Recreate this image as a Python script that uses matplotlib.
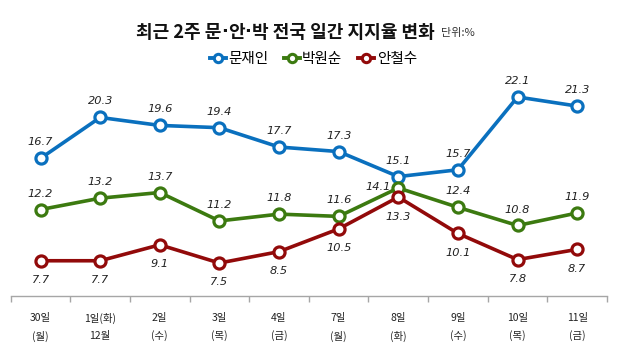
import matplotlib
matplotlib.use("Agg")
import matplotlib.pyplot as plt
from matplotlib.lines import Line2D

plt.rcParams['font.family'] = ['Noto Sans CJK KR', 'DejaVu Sans']

days = ["30일", "1일(화)", "2일", "3일", "4일", "7일", "8일", "9일", "10일", "11일"]
weekdays = ["(월)", "12월", "(수)", "(목)", "(금)", "(월)", "(화)", "(수)", "(목)", "(금)"]
series_names = ["문재인", "박원순", "안철수"]
moon = [16.7, 20.3, 19.6, 19.4, 17.7, 17.3, 15.1, 15.7, 22.1, 21.3]
park = [12.2, 13.2, 13.7, 11.2, 11.8, 11.6, 14.1, 12.4, 10.8, 11.9]
ahn = [7.7, 7.7, 9.1, 7.5, 8.5, 10.5, 13.3, 10.1, 7.8, 8.7]
title_parts = ["최근 2주 문", "·", "안", "·", "박 전국 일간 지지율 변화"]
unit_text = "단위:%"

colors = ["#0A70BE", "#3C7A10", "#920A0A"]

fig = plt.figure(figsize=(6.2, 3.53), dpi=100)
ax = fig.add_axes([10.7/620, (353-296)/353, (607-10.7)/620, (296-64)/353])

x = list(range(len(days)))
all_series = [moon, park, ahn]
for vals, c in zip(all_series, colors):
    ax.plot(x, vals, color=c, lw=2.6, marker='o', ms=8, mfc='white',
            mec=c, mew=2.3, zorder=3)

def lab(xi, v, dx, dy):
    ax.annotate(f"{v}", (xi, v), xytext=(dx, dy), textcoords='offset points',
                ha='center', va='center', fontsize=8.2, style='italic',
                family='DejaVu Sans', color='#222222', zorder=4)

for i, v in enumerate(moon):
    lab(i, v, 0, 11.5)
for i, v in enumerate(park):
    if i == 6:
        lab(i, v, -14.5, 0.5)
    else:
        lab(i, v, 0, 11.5)
for i, v in enumerate(ahn):
    lab(i, v, 0, -14)

ax.set_xlim(-0.5, len(days) - 0.5)
ax.set_ylim(4.6, 25.0)
ax.set_yticks([])
for s in ['top', 'left', 'right']:
    ax.spines[s].set_visible(False)
ax.spines['bottom'].set_color('#A6A6A6')
ax.spines['bottom'].set_linewidth(1.0)

ax.set_xticks(x)
ax.set_xticklabels([f"{d}\n{w}" for d, w in zip(days, weekdays)],
                   fontsize=7.5, linespacing=1.9, color='#222222')
ax.tick_params(axis='x', which='major', length=0, pad=12)
ax.set_xticks([i - 0.5 for i in range(len(days) + 1)], minor=True)
ax.tick_params(axis='x', which='minor', length=4, color='#A6A6A6', width=1)

# title built from pieces so the middle dots stay narrow
renderer = fig.canvas.get_renderer()
ty = 1 - 32.5/353
texts = []
for p in title_parts:
    fam = 'DejaVu Sans' if p == "·" else ['Noto Sans CJK KR', 'DejaVu Sans']
    t = fig.text(0, ty, p, ha='left', va='center', fontsize=13,
                 fontweight='bold', color='#111111', family=fam)
    texts.append(t)
widths = [t.get_window_extent(renderer).width for t in texts]
total = sum(widths)
xpos = 285 - total / 2
for t, w in zip(texts, widths):
    t.set_x(xpos / 620)
    xpos += w
fig.text((xpos + 7) / 620, 1 - 33/353, unit_text, ha='left', va='center',
         fontsize=8, color='#333333')

handles = [Line2D([0], [0], color=c, lw=2.8, marker='o', ms=6, mfc='white',
                  mec=c, mew=2.2) for c in colors]
fig.legend(handles, series_names, loc='center', bbox_to_anchor=(0.505, 1 - 59/353),
           ncol=3, frameon=False, fontsize=10.5, handlelength=1.1,
           handletextpad=0.15, columnspacing=1.1)

fig.savefig("out.png", dpi=100)
